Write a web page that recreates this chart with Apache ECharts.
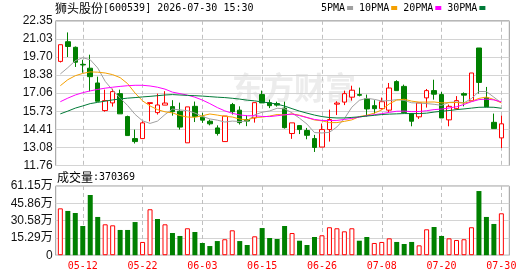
<!DOCTYPE html>
<html><head><meta charset="utf-8">
<script src="https://cdn.jsdelivr.net/npm/echarts@6/dist/echarts.min.js"></script>
<style>html,body{margin:0;padding:0;background:#fff}#c{width:530px;height:276px}</style>
</head><body><div id="c"></div>
<script>
const stockName = '狮头股份';
const stockInfo = '[600539] 2026-07-30 15:30';
const dates = ['05-07','05-08','05-11','05-12','05-13','05-14','05-15','05-18','05-19','05-20','05-21','05-22','05-25','05-26','05-27','05-28','05-29','06-01','06-02','06-03','06-04','06-05','06-08','06-09','06-10','06-11','06-12','06-15','06-16','06-17','06-18','06-22','06-23','06-24','06-25','06-26','06-29','06-30','07-01','07-02','07-03','07-06','07-07','07-08','07-09','07-10','07-13','07-14','07-15','07-16','07-17','07-20','07-21','07-22','07-23','07-24','07-27','07-28','07-29','07-30'];
const xTickDates = ['05-12','05-22','06-03','06-15','06-26','07-08','07-20','07-30'];
// [open, close, low, high]
const ohlc = [
[19.38,20.60,19.30,20.60],[20.82,20.47,19.70,21.50],[20.41,19.32,18.97,20.47],[19.16,19.12,18.55,19.50],[18.88,18.26,17.19,19.87],
[17.80,16.46,16.46,18.26],[15.78,16.51,15.70,17.31],[16.34,17.17,16.07,17.38],[17.02,15.54,15.54,17.31],[15.34,13.95,13.95,15.41],
[13.73,13.51,13.37,14.39],[13.73,14.88,13.73,15.00],[16.30,16.36,14.99,16.36],[15.63,16.19,15.49,17.02],[16.18,16.33,16.18,17.20],
[16.07,15.70,15.41,16.54],[15.73,14.57,14.39,16.36],[13.42,16.05,13.42,16.05],[16.09,15.34,14.94,16.44],[15.30,15.08,14.88,15.61],
[15.00,14.81,14.70,15.12],[14.51,14.10,13.95,14.70],[13.51,15.38,13.51,15.38],[16.22,15.70,15.49,16.34],[15.81,14.90,14.76,16.09],
[15.12,15.01,14.64,15.45],[15.24,16.36,14.90,16.36],[16.95,16.34,16.34,17.24],[16.36,16.14,15.96,16.58],[16.29,16.18,16.07,16.43],
[15.96,14.53,14.46,16.43],[14.10,14.88,13.71,14.88],[14.68,14.39,14.06,14.68],[14.32,13.97,13.68,14.51],[13.73,13.08,12.75,14.00],
[13.11,14.39,13.11,14.83],[14.39,15.12,13.51,15.85],[16.25,16.33,15.45,16.46],[16.40,17.02,16.18,17.24],[16.76,17.27,16.51,17.60],
[16.95,16.90,16.82,17.46],[16.65,15.90,15.34,16.95],[16.14,15.92,15.56,16.54],[15.92,16.43,15.85,16.73],[15.81,17.43,15.63,17.80],
[17.90,17.24,17.24,18.00],[17.55,15.63,15.63,17.68],[15.56,15.00,14.63,15.56],[15.32,16.34,15.17,16.34],[16.71,17.24,16.00,17.36],
[17.24,16.98,16.58,18.04],[16.95,15.24,15.24,17.14],[15.10,16.09,14.63,16.22],[15.92,16.51,15.85,16.84],[17.02,16.91,16.09,17.11],
[16.49,18.53,16.49,18.53],[20.36,17.84,17.02,20.36],[16.71,16.05,16.05,17.51],[14.92,14.46,14.46,15.56],[13.78,14.81,13.04,15.41]
];
const ma5 = [18.46,18.92,19.43,19.65,19.50,18.90,17.92,17.27,16.70,16.15,15.50,15.03,14.84,15.01,15.49,15.89,15.83,15.77,15.60,15.35,15.17,15.08,14.94,15.01,14.98,15.02,15.47,15.66,15.75,15.95,15.91,15.61,15.22,14.79,14.17,14.14,14.19,14.58,15.19,16.03,16.53,16.68,16.60,16.48,16.51,16.58,16.53,16.35,16.33,16.29,16.24,16.16,16.38,16.41,16.35,16.66,17.18,17.17,16.76,16.34];
const ma10 = [17.60,18.04,18.33,18.50,18.61,18.59,18.53,18.41,18.19,17.75,17.06,16.49,16.12,15.85,15.69,15.61,15.42,15.31,15.29,15.40,15.53,15.45,15.36,15.31,15.16,15.09,15.27,15.30,15.38,15.49,15.46,15.54,15.44,15.27,15.09,15.03,14.90,14.90,14.99,15.10,15.34,15.44,15.59,15.83,16.27,16.55,16.61,16.47,16.40,16.40,16.41,16.34,16.36,16.37,16.32,16.45,16.67,16.77,16.59,16.34];
const ma20 = [16.43,16.69,16.92,17.09,17.22,17.33,17.42,17.49,17.55,17.60,17.63,17.63,17.58,17.49,17.35,17.13,17.02,16.91,16.76,16.55,16.29,16.00,15.76,15.58,15.46,15.40,15.40,15.35,15.34,15.40,15.47,15.52,15.41,15.27,15.13,15.06,15.05,15.06,15.13,15.21,15.30,15.40,15.48,15.55,15.65,15.73,15.74,15.70,15.71,15.77,15.85,15.89,15.97,16.06,16.23,16.43,16.58,16.62,16.56,16.42];
const ma30 = [15.54,15.74,15.96,16.12,16.29,16.38,16.47,16.56,16.63,16.69,16.73,16.78,16.82,16.87,16.92,16.95,16.92,16.89,16.87,16.84,16.80,16.76,16.73,16.68,16.62,16.54,16.49,16.41,16.34,16.25,16.11,15.92,15.74,15.59,15.45,15.34,15.27,15.24,15.24,15.28,15.32,15.38,15.43,15.49,15.52,15.54,15.56,15.56,15.56,15.59,15.67,15.73,15.78,15.85,15.90,15.96,16.02,16.03,16.02,15.95];
const volume = [414000,391000,373000,258000,532000,338000,273000,264000,223000,223000,293000,117000,406000,320000,273000,196000,170000,238000,205000,108000,81000,125000,141000,220000,125000,90000,167000,240000,152000,143000,258000,196000,128000,90000,161000,176000,247000,238000,211000,238000,128000,161000,108000,117000,149000,117000,99000,117000,87000,229000,249000,170000,149000,134000,141000,247000,567000,338000,276000,370369];
const volUp = [1,0,0,0,0,0,1,1,0,0,0,1,1,0,1,0,0,1,0,0,0,0,1,1,0,0,1,0,0,0,0,1,0,0,0,1,1,1,1,1,0,0,1,1,1,0,0,0,1,1,0,0,1,1,1,1,0,0,0,1];
const priceTicks = ['11.76','13.08','14.41','15.73','17.06','18.38','19.70','21.03','22.35'];
const volTicks = ['0','15.29万','30.58万','45.86万','61.15万'];
const maNames = ['5PMA','10PMA','20PMA','30PMA'];
const volLabel = '成交量';

const RED = '#ff0000', GREEN = '#008000';
const maColors = ['#a0a0a0','#f5a000','#ff00ff','#007a37'];
const chart = echarts.init(document.getElementById('c'), null, {renderer:'canvas'});

const FL = 55.7, FR = 530 - 509.3;
const N = dates.length;
const DL = 56.6, DW = 448.5, STEP = DW / N;
const KT = 20.8, KH = 144.7, VT = 186, VH = 69.2;
const labelFont = {fontFamily:'Liberation Sans, Noto Sans CJK SC', fontSize:12, color:'#111'};

function frameY(ticks, idx) {
  return {gridIndex: idx, type:'value', min:0, max:ticks.length-1, interval:1,
    axisLine:{show:false}, axisTick:{show:false},
    axisLabel:Object.assign({margin:3, formatter:(v)=>ticks[Math.round(v)]}, labelFont),
    splitLine:{show:true, lineStyle:{color:'#d4d4d4', width:1}}};
}
// guide grids: category axis without boundary gap, inset by half a band, so its
// split lines fall on the category centres of the data grids
function guideX(idx) {
  return {gridIndex:idx, type:'category', data:dates, boundaryGap:false,
    axisLine:{show:false}, axisTick:{show:false}, axisLabel:{show:false},
    splitLine:{show:true, interval:(i)=>xTickDates.indexOf(dates[i])>=0,
      lineStyle:{type:[4,3], color:'#c0c0c0', width:1}}};
}
const hiddenY = (idx)=>({gridIndex:idx, type:'value', min:0, max:1, axisLine:{show:false}, axisTick:{show:false}, axisLabel:{show:false}, splitLine:{show:false}});
const richTitle = {a:{fontFamily:'Noto Sans CJK SC', fontSize:12, fontWeight:'normal', color:'#000'},
                   b:{fontFamily:'DejaVu Sans Mono', fontSize:10, fontWeight:'normal', color:'#000'}};

const option = {
  animation:false,
  title:[
    {text:'{a|'+stockName+'}{b|'+stockInfo+'}', left:55, top:2, padding:0,
      textStyle:{fontWeight:'normal', rich:richTitle}},
    {text:'{a|'+volLabel+'}{b|:'+volume[volume.length-1]+'}', left:57, top:171, padding:0,
      textStyle:{fontWeight:'normal', rich:richTitle}}
  ],
  legend:{data:maNames, left:321, top:3, padding:0, align:'right', icon:'rect', itemWidth:6, itemHeight:4, itemGap:6,
    selectedMode:false, textStyle:{fontFamily:'DejaVu Sans Mono', fontSize:10, color:'#000', padding:[0,-3,0,0]}},
  graphic:[{type:'text', left:232, top:72, z:-5, silent:true,
    style:{text:'东方财富', font:'bold 31px "Noto Sans CJK SC"', fill:'#ececec'}}],
  grid:[
    {left:FL, right:FR, top:KT, height:KH, show:true, borderColor:'#999', borderWidth:1, backgroundColor:'transparent', outerBoundsMode:'none'},
    {left:DL, width:DW, top:KT, height:KH, outerBoundsMode:'none'},
    {left:FL, right:FR, top:VT, height:VH, show:true, borderColor:'#999', borderWidth:1, backgroundColor:'transparent', outerBoundsMode:'none'},
    {left:DL, width:DW, top:VT, height:VH, outerBoundsMode:'none'},
    {left:DL + STEP/2, width:DW - STEP, top:KT, height:KH, outerBoundsMode:'none'},
    {left:DL + STEP/2, width:DW - STEP, top:VT, height:VH, outerBoundsMode:'none'}
  ],
  xAxis:[
    {gridIndex:0, type:'value', min:0, max:1, show:false},
    {gridIndex:1, type:'category', data:dates, boundaryGap:true, axisLine:{show:false}, axisTick:{show:false}, axisLabel:{show:false}, splitLine:{show:false}},
    {gridIndex:2, type:'value', min:0, max:1, show:false},
    {gridIndex:3, type:'category', data:dates, boundaryGap:true,
      axisLine:{show:false}, axisTick:{show:false}, splitLine:{show:false},
      axisLabel:{interval:(i)=>xTickDates.indexOf(dates[i])>=0, color:'#ff0000', fontFamily:'DejaVu Sans Mono', fontSize:10, margin:6, hideOverlap:false}},
    guideX(4),
    guideX(5)
  ],
  yAxis:[
    frameY(priceTicks, 0),
    {gridIndex:1, type:'value', min:11.76, max:22.35, axisLine:{show:false}, axisTick:{show:false}, axisLabel:{show:false}, splitLine:{show:false}},
    frameY(volTicks, 2),
    {gridIndex:3, type:'value', min:0, max:611500, axisLine:{show:false}, axisTick:{show:false}, axisLabel:{show:false}, splitLine:{show:false}},
    hiddenY(4),
    hiddenY(5)
  ],
  series:[
    {type:'candlestick', name:'K', xAxisIndex:1, yAxisIndex:1, z:3, barWidth:5,
      data: ohlc.map(d=>[d[0], d[1], d[2], d[3]]),
      itemStyle:{color:'#ffffff', color0:GREEN, borderColor:RED, borderColor0:GREEN, borderWidth:1}},
    ...[ma5, ma10, ma20, ma30].map((arr, k)=>({type:'line', name:maNames[k], xAxisIndex:1, yAxisIndex:1, z:4,
      data:arr, symbol:'none', smooth:false, color:maColors[k], lineStyle:{width:1, color:maColors[k]}})),
    {type:'bar', name:'VOL', xAxisIndex:3, yAxisIndex:3, barWidth:5, z:3,
      data: volume.map((v,i)=>({value:v, itemStyle: volUp[i] ? {color:'#ffffff', borderColor:RED, borderWidth:1} : {color:GREEN}}))}
  ]
};
chart.setOption(option);
</script></body></html>
